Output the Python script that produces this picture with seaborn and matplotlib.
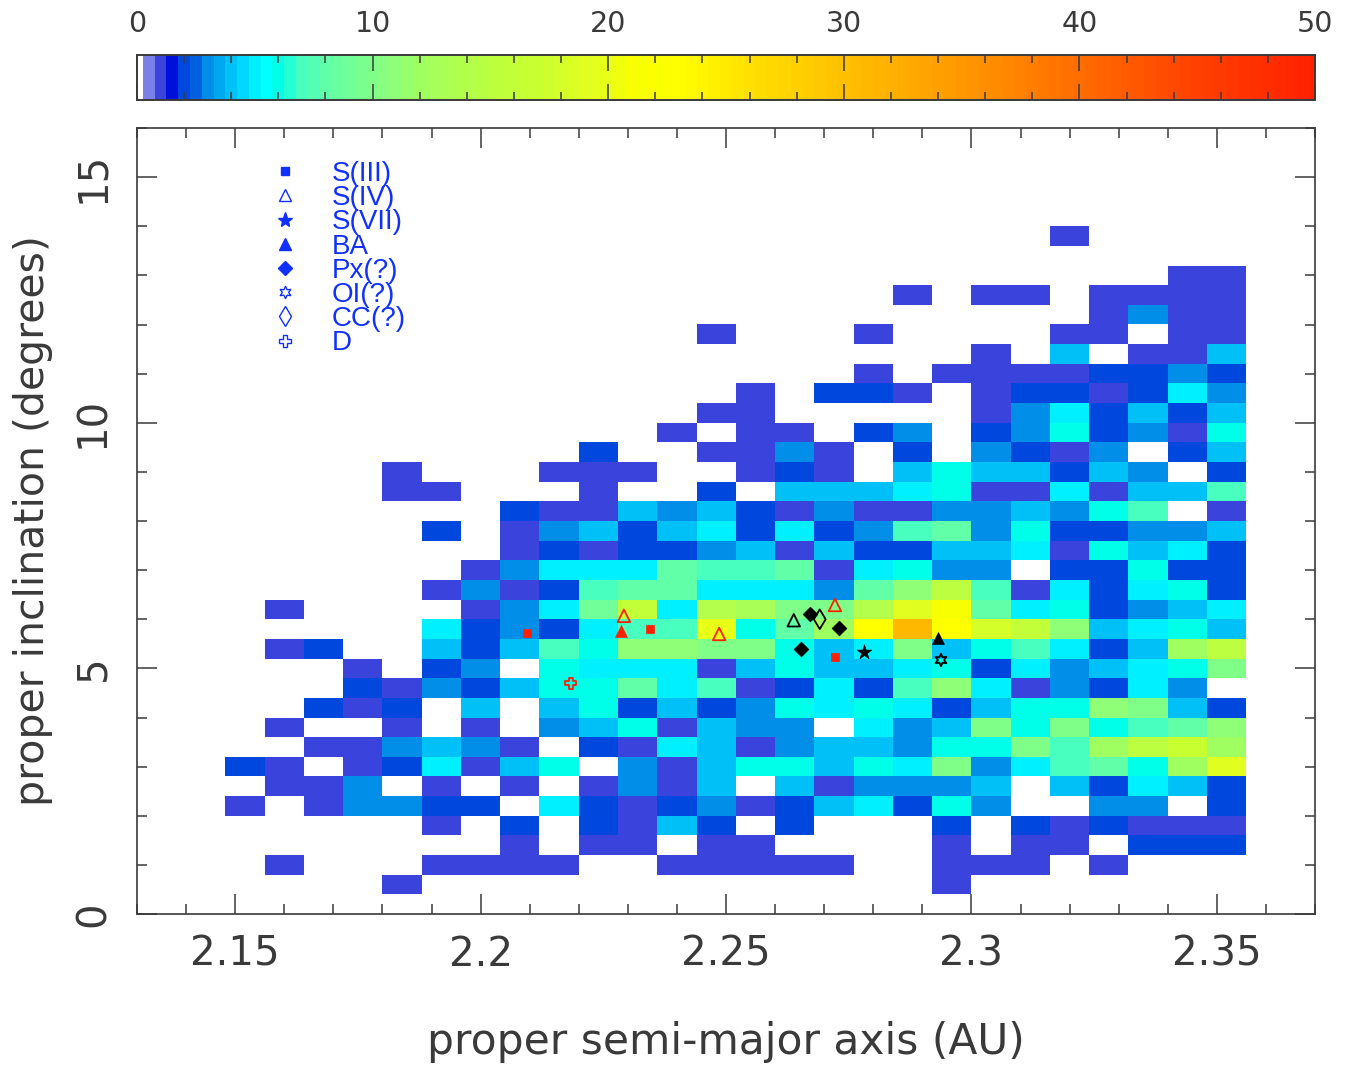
import numpy as np
import pandas as pd
import matplotlib
matplotlib.use("Agg")
import matplotlib.pyplot as plt
from matplotlib.colors import ListedColormap, to_rgb
from matplotlib.lines import Line2D
from matplotlib.ticker import MultipleLocator, FixedLocator, FixedFormatter
import seaborn as sns

# bins of the 2D histogram
a_first = 2.148
a_step = 0.008
i_step = 0.4

# number of asteroids per cell, top row (13.6-14 deg) first, 0 = empty
counts = [
    [0,0,0,0,0,0,0,0,0,0,0,0,0,0,0,0,0,0,0,0,0,1,0,0,0,0],
    [0,0,0,0,0,0,0,0,0,0,0,0,0,0,0,0,0,0,0,0,0,0,0,0,0,0],
    [0,0,0,0,0,0,0,0,0,0,0,0,0,0,0,0,0,0,0,0,0,0,0,0,1,1],
    [0,0,0,0,0,0,0,0,0,0,0,0,0,0,0,0,0,1,0,1,1,0,1,1,1,1],
    [0,0,0,0,0,0,0,0,0,0,0,0,0,0,0,0,0,0,0,0,0,0,1,3,1,1],
    [0,0,0,0,0,0,0,0,0,0,0,0,1,0,0,0,1,0,0,0,0,1,1,0,1,1],
    [0,0,0,0,0,0,0,0,0,0,0,0,0,0,0,0,0,0,0,1,0,4,0,1,1,4],
    [0,0,0,0,0,0,0,0,0,0,0,0,0,0,0,0,1,0,1,1,1,1,2,2,3,2],
    [0,0,0,0,0,0,0,0,0,0,0,0,0,1,0,2,2,1,0,1,2,2,1,2,5,3],
    [0,0,0,0,0,0,0,0,0,0,0,0,1,1,0,0,0,0,0,1,3,5,2,4,2,4],
    [0,0,0,0,0,0,0,0,0,0,0,1,0,1,1,0,2,3,0,2,3,6,2,3,1,6],
    [0,0,0,0,0,0,0,0,0,2,0,0,1,1,3,1,0,2,0,3,2,1,3,0,2,4],
    [0,0,0,0,1,0,0,0,1,1,1,0,0,1,2,1,0,4,6,4,4,2,4,3,0,2],
    [0,0,0,0,1,1,0,0,0,1,0,0,2,0,4,4,4,5,6,1,1,5,1,4,4,7],
    [0,0,0,0,0,0,0,2,1,1,4,3,4,2,1,3,1,1,3,3,4,3,6,7,0,1],
    [0,0,0,0,0,2,0,1,3,4,2,4,5,2,5,2,3,7,8,3,6,2,2,3,3,4],
    [0,0,0,0,0,0,0,1,2,1,2,2,3,4,1,4,2,2,4,4,5,1,6,4,5,2],
    [0,0,0,0,0,0,1,3,5,5,5,8,7,7,8,1,5,6,3,3,0,2,2,6,2,2],
    [0,0,0,0,0,1,3,1,2,7,8,8,5,5,5,3,8,11,15,7,1,5,2,5,6,2],
    [0,1,0,0,0,0,1,3,5,9,16,5,14,13,10,10,14,19,21,8,5,6,2,3,4,5],
    [0,0,0,0,0,5,2,3,2,5,7,7,20,6,8,12,23,31,23,18,16,11,4,5,6,4],
    [0,1,2,0,0,4,2,4,7,6,11,11,10,10,6,4,5,10,4,6,7,5,2,4,12,15],
    [0,0,0,1,0,2,3,0,6,5,5,5,1,4,6,4,4,5,6,2,5,3,4,5,6,10],
    [0,0,0,2,1,3,2,4,6,6,8,5,7,1,2,5,2,7,11,5,1,3,2,5,3,0],
    [0,0,2,1,2,0,4,0,4,6,2,4,2,3,6,5,6,5,2,4,6,6,11,10,4,2],
    [0,1,0,0,1,0,1,0,3,4,6,1,4,3,3,0,5,3,4,10,6,10,6,7,8,11],
    [0,0,1,1,3,4,3,1,0,2,1,5,4,1,3,4,4,3,6,6,10,7,12,15,17,12],
    [2,1,0,1,2,5,1,4,6,0,3,1,4,6,6,4,6,5,10,3,5,7,8,6,12,19],
    [0,1,1,3,0,1,0,1,0,1,3,1,4,0,4,1,3,3,3,4,0,4,2,5,4,2],
    [1,0,1,3,3,2,2,0,5,2,1,2,3,1,2,4,5,2,6,3,0,0,3,3,0,2],
    [0,0,0,0,0,1,0,2,0,2,1,4,2,0,2,0,0,0,2,0,2,1,2,1,1,1],
    [0,0,0,0,0,0,0,1,0,1,1,0,1,1,0,0,0,0,1,0,1,1,0,2,2,2],
    [0,1,0,0,0,1,1,1,1,0,0,1,1,1,1,1,0,0,1,1,1,0,1,0,0,0],
    [0,0,0,0,1,0,0,0,0,0,0,0,0,0,0,0,0,0,1,0,0,0,0,0,0,0],
    [0,0,0,0,0,0,0,0,0,0,0,0,0,0,0,0,0,0,0,0,0,0,0,0,0,0],
]

# colour scale
scale_values = [0, 0.5, 1, 1.5, 2, 2.5, 3, 3.5, 4, 4.5, 5, 5.5, 6, 7, 8, 9, 10, 11, 12, 15, 17, 19, 20, 21, 23, 26, 30, 32, 35, 40, 45, 50]
scale_colors = ["#ffffff", "#7b80e8", "#3a44dd", "#0010d8", "#0048dd", "#0060e0", "#008ee8", "#00a8f0",
                "#00c0f8", "#00d8ff", "#00f0ff", "#00ffff", "#00ffe8", "#48ffc0", "#60ffa8", "#70ff98",
                "#80ff88", "#90ff78", "#a0ff60", "#bcff40", "#c8ff30", "#e0ff20", "#e8ff18", "#f8ff00",
                "#ffff00", "#ffe000", "#ffc000", "#ffb000", "#ff9800", "#ff6c00", "#ff4000", "#ff2000"]

# taxonomic legend
tax_types = ["S(III)", "S(IV)", "S(VII)", "BA", "Px(?)", "OI(?)", "CC(?)", "D"]
tax_markers = ["s", "^", "*", "^", "D", (6, 1, 0), "d", "P"]
tax_sizes = [5.5, 9, 11, 8.5, 7.5, 9, 10, 8]
tax_open = [False, True, False, False, False, True, True, True]

# classified asteroids
obj_a = [2.2095, 2.2345, 2.2722, 2.2292, 2.2486, 2.2722, 2.2286, 2.2184,
         2.2638, 2.2671, 2.2691, 2.2730, 2.2653, 2.2781, 2.2932, 2.2938]
obj_i = [5.72, 5.80, 5.23, 6.07, 5.70, 6.29, 5.76, 4.70,
         5.98, 6.11, 6.00, 5.82, 5.39, 5.33, 5.62, 5.17]
obj_type = ["S(III)", "S(III)", "S(III)", "S(IV)", "S(IV)", "S(IV)", "BA", "D",
            "S(IV)", "Px(?)", "CC(?)", "Px(?)", "Px(?)", "S(VII)", "BA", "OI(?)"]
obj_color = ["#ff2000"] * 8 + ["#000000"] * 8

W, H = 1350, 1065
ax_box = [137 / W, 1 - 914 / H, 1178 / W, 786 / H]
cb_box = [137 / W, 1 - 100 / H, 1178 / W, 45 / H]
ink = "#3a3a3a"

sns.set_theme(style="white")
plt.rcParams["font.family"] = "DejaVu Sans"

# stepped colormap, 0.5 per level
levels = np.arange(0, 50.5, 0.5)
rgb = np.array([to_rgb(c) for c in scale_colors])
cmap = ListedColormap(np.column_stack([np.interp(levels, scale_values, rgb[:, k]) for k in range(3)]))

grid = pd.DataFrame(counts[::-1])

fig = plt.figure(figsize=(W / 100, H / 100), dpi=100)
ax = fig.add_axes(ax_box)
cax = fig.add_axes(cb_box)
sns.heatmap(grid, mask=grid == 0, cmap=cmap, vmin=-0.25, vmax=50.25, ax=ax, cbar_ax=cax,
            cbar_kws={"orientation": "horizontal"}, xticklabels=False, yticklabels=False)
ax.set_xlim((2.13 - a_first) / a_step, (2.37 - a_first) / a_step)
ax.set_ylim(0, 16 / i_step)
ax.tick_params(left=False, bottom=False)

# colour bar
cax.set_xlim(0, 50)
cax.set_axisbelow(False)
cax.xaxis.set_major_locator(MultipleLocator(10))
cax.xaxis.set_minor_locator(MultipleLocator(2))
cax.tick_params(axis="x", which="major", direction="in", length=11.5, width=1.1, top=True, bottom=True,
                labeltop=True, labelbottom=False, labelsize=20.5, pad=12, color=ink, labelcolor=ink)
cax.tick_params(axis="x", which="minor", direction="in", length=5.8, width=1.1, top=True, bottom=True, color=ink)
for s in cax.spines.values():
    s.set_visible(True)
    s.set_color(ink)
    s.set_linewidth(1.2)

# overlay in real units for ticks, labels and symbols
top = fig.add_axes(ax_box, facecolor="none")
for a, i, t, c in zip(obj_a, obj_i, obj_type, obj_color):
    k = tax_types.index(t)
    sns.scatterplot(x=[a], y=[i], marker=tax_markers[k], s=tax_sizes[k] ** 2, color=c,
                    facecolor="none" if tax_open[k] else c, edgecolor=c,
                    linewidth=1.3 if tax_open[k] else 0.5, legend=False, ax=top)
top.set_xlim(2.13, 2.37)
top.set_ylim(0, 16)
top.xaxis.set_major_locator(FixedLocator([2.15, 2.2, 2.25, 2.3, 2.35]))
top.xaxis.set_major_formatter(FixedFormatter(["2.15", "2.2", "2.25", "2.3", "2.35"]))
top.xaxis.set_minor_locator(MultipleLocator(0.01))
top.yaxis.set_major_locator(MultipleLocator(5))
top.yaxis.set_minor_locator(MultipleLocator(1))
top.tick_params(which="major", direction="in", length=14.4, width=1.1, top=True, right=True, bottom=True, left=True,
                color=ink, labelcolor=ink, labelsize=29)
top.tick_params(which="minor", direction="in", length=7.2, width=1.1, top=True, right=True, bottom=True, left=True, color=ink)
top.tick_params(axis="x", which="major", pad=15)
top.tick_params(axis="y", which="major", pad=17)
plt.setp(top.get_yticklabels(), rotation=90, va="center")
top.set_xlabel("proper semi-major axis (AU)", fontsize=30.5, color=ink, labelpad=33)
top.set_ylabel("proper inclination (degrees)", fontsize=29.5, color=ink, labelpad=15)
for s in top.spines.values():
    s.set_visible(True)
    s.set_color(ink)
    s.set_linewidth(1.2)

handles = [Line2D([], [], linestyle="none", marker=m, markersize=sz, color="#1030ff",
                  markerfacecolor="none" if o else "#1030ff", markeredgewidth=1.0)
           for m, sz, o in zip(tax_markers, tax_sizes, tax_open)]
top.legend(handles, tax_types, loc="upper left", bbox_to_anchor=((271 - 137) / 1178, (914 - 161) / 786),
           frameon=False, prop={"family": "Liberation Sans", "size": 20}, labelcolor="#1030ff", borderpad=0,
           borderaxespad=0, handlelength=1, handletextpad=1.2, labelspacing=-0.065)

plt.savefig("out.png", dpi=100)
